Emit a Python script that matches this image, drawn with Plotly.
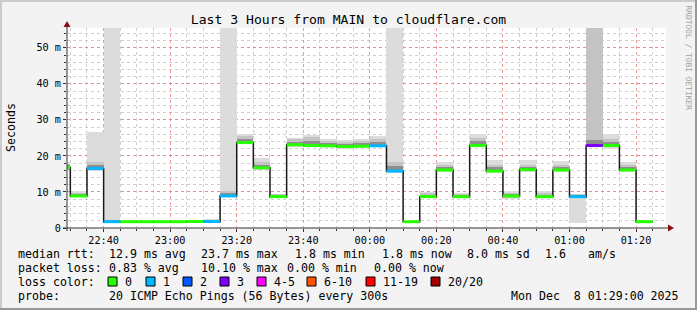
import plotly.graph_objects as go
import pandas as pd

W, H = 697, 310
L, R, T, B = 67, 666, 28, 228   # plot area in pixels

# ---------------- data ----------------
starts = pd.date_range("2025-12-07 22:25:00", periods=36, freq="5min")
median = [16.8, 8.9, 16.5, 1.75, 1.75, 1.75, 1.75, 1.75, 1.8, 1.8,
          8.9, 23.7, 16.7, 8.7, 23.1, 22.9, 22.8, 22.6, 22.7, 22.8,
          15.8, 1.75, 8.7, 16.1, 8.7, 22.9, 15.8, 8.9, 16.2, 8.7,
          16.1, 8.7, 22.9, 22.9, 16.1, 1.75]
loss = [0, 0, 1, 1, 0, 0, 0, 0, 0, 1,
        1, 0, 0, 0, 0, 0, 0, 0, 0, 1,
        1, 0, 0, 0, 0, 0, 0, 0, 0, 0,
        0, 1, 3, 0, 0, 0]
smoke_lo = [15.9, 8.5, 15.9, 1.5, 1.5, 1.5, 1.5, 1.5, 1.5, 1.5,
            8.5, 23.2, 16.1, 8.2, 22.6, 22.5, 22.4, 21.9, 22.2, 22.4,
            15.4, 1.6, 8.3, 15.5, 8.3, 22.4, 15.4, 8.1, 15.6, 8.3,
            15.5, 1.3, 22.4, 22.0, 15.5, 1.6]
smoke_hi = [18.4, 10.3, 26.7, 60, 2.3, 2.0, 2.0, 2.0, 2.3, 2.6,
            60, 26.2, 19.4, 9.5, 25.0, 25.7, 24.8, 24.3, 24.8, 25.5,
            60, 1.9, 10.1, 18.4, 9.8, 26.0, 19.0, 10.3, 18.9, 10.3,
            18.6, 9.5, 60, 26.0, 18.3, 1.9]
mid_lo = [16.2, 8.6, 16.2, 1.6, 1.6, 1.6, 1.6, 1.6, 1.6, 1.6,
          8.7, 23.5, 16.4, 8.5, 22.9, 22.7, 22.6, 22.2, 22.4, 22.6,
          15.6, 1.65, 8.5, 15.8, 8.5, 22.7, 15.6, 8.4, 15.9, 8.5,
          15.8, 8.3, 22.6, 22.5, 15.8, 1.65]
mid_hi = [17.8, 9.8, 18.3, 2.2, 2.0, 1.9, 1.9, 1.9, 2.0, 2.3,
          10.3, 25.5, 18.3, 9.3, 24.6, 25.2, 24.2, 23.8, 24.2, 24.8,
          18.2, 1.85, 9.6, 17.4, 9.4, 25.1, 17.6, 9.8, 17.6, 9.7,
          17.6, 9.3, 60, 24.8, 17.5, 1.85]
core_lo = [16.5, 8.8, 16.4, 1.7, 1.7, 1.7, 1.7, 1.7, 1.7, 1.7,
           8.8, 23.6, 16.6, 8.6, 23.0, 22.8, 22.7, 22.4, 22.6, 22.7,
           15.7, 1.7, 8.6, 16.0, 8.6, 22.8, 15.7, 8.6, 16.1, 8.6,
           16.0, 8.5, 22.8, 22.7, 16.0, 1.7]
core_hi = [17.4, 9.4, 17.6, 2.0, 1.9, 1.85, 1.85, 1.85, 1.9, 2.0,
           9.6, 24.6, 17.6, 9.0, 24.0, 24.2, 23.6, 23.2, 23.5, 24.0,
           17.2, 1.8, 9.2, 16.8, 9.1, 24.2, 16.8, 9.4, 16.9, 9.2,
           16.9, 9.1, 24.5, 23.8, 16.9, 1.8]

loss_labels = ["0", "1", "2", "3", "4-5", "6-10", "11-19", "20/20"]
loss_colors = ["#26ff00", "#00b8ff", "#0059ff", "#7e00ff", "#ff00ff",
               "#ff5500", "#ff0000", "#a10000"]

y_tickvals = [0, 10, 20, 30, 40, 50]
y_ticktext = ["0", "10 m", "20 m", "30 m", "40 m", "50 m"]

title = "Last 3 Hours from MAIN to cloudflare.com"
rtt_items = ["median rtt:", "12.9 ms avg", "23.7 ms max", "1.8 ms min",
             "1.8 ms now", "8.0 ms sd", "1.6", "am/s"]
loss_items = ["packet loss:", "0.83 % avg", "10.10 % max", "0.00 % min", "0.00 % now"]
probe_items = ["probe:", "20 ICMP Echo Pings (56 Bytes) every 300s"]
stamp = "Mon Dec  8 01:29:00 2025"

# ---------------- layout positions (pixels) ----------------
rtt_x = [16, 107, 199.5, 293, 380, 465, 543, 586]
loss_x = [16, 107, 199.5, 285, 372.5]
probe_x = [16, 107]
sq_x = [108, 146, 183, 220, 257, 307, 366, 431]

MONO = "DejaVu Sans Mono"
step = pd.Timedelta(minutes=5)
centers = [s + step / 2 for s in starts]
ends = [s + step for s in starts]
bw = 300000


def px(x):
    return (x - L) / (R - L)


def py(y):
    return (B - y) / (B - T)


def nb(s):
    return s.replace(" ", "\u00a0")


fig = go.Figure()

for lo, hi, col in [(smoke_lo, smoke_hi, "#dcdcdc"),
                    (mid_lo, mid_hi, "#c4c4c4"),
                    (core_lo, core_hi, "#8e8e8e")]:
    fig.add_trace(go.Bar(x=centers, base=lo, y=[h - l for l, h in zip(lo, hi)],
                         width=bw, marker=dict(color=col, line=dict(width=0)),
                         hoverinfo="skip", showlegend=False))

# black step line
fig.add_trace(go.Scatter(x=list(starts) + [ends[-1]], y=median + [median[-1]],
                         mode="lines", line=dict(color="#1a1a1a", width=1.5, shape="hv"),
                         hoverinfo="skip", showlegend=False))

# coloured median segments
for k, col in enumerate(loss_colors):
    xs, ys = [], []
    for s, e, m, l in zip(starts, ends, median, loss):
        if l == k:
            xs += [s, e, None]
            ys += [m, m, None]
    if xs:
        fig.add_trace(go.Scatter(x=xs, y=ys, mode="lines",
                                 line=dict(color=col, width=3),
                                 hoverinfo="skip", showlegend=False))

shapes = []
ann = []

# frame (3D border)
shapes += [
    dict(type="rect", xref="paper", yref="paper", x0=px(0), x1=px(W), y0=py(0), y1=py(2),
         fillcolor="#cbcbcb", line=dict(width=0), layer="below"),
    dict(type="rect", xref="paper", yref="paper", x0=px(0), x1=px(2), y0=py(0), y1=py(H),
         fillcolor="#cbcbcb", line=dict(width=0), layer="below"),
    dict(type="rect", xref="paper", yref="paper", x0=px(0), x1=px(W), y0=py(H - 2), y1=py(H),
         fillcolor="#999999", line=dict(width=0), layer="below"),
    dict(type="rect", xref="paper", yref="paper", x0=px(W - 2), x1=px(W), y0=py(0), y1=py(H),
         fillcolor="#999999", line=dict(width=0), layer="below"),
]

# axes lines + arrows
shapes += [
    dict(type="line", xref="paper", yref="paper", x0=px(63), x1=px(669), y0=py(228), y1=py(228),
         line=dict(color="#333333", width=1)),
    dict(type="line", xref="paper", yref="paper", x0=px(67), x1=px(67), y0=py(231), y1=py(25),
         line=dict(color="#333333", width=1)),
    dict(type="path", xref="paper", yref="paper",
         path=f"M {px(668)} {py(224.5)} L {px(674)} {py(228)} L {px(668)} {py(231.5)} Z",
         fillcolor="#8b1010", line=dict(width=0)),
    dict(type="path", xref="paper", yref="paper",
         path=f"M {px(63.5)} {py(27)} L {px(67)} {py(21)} L {px(70.5)} {py(27)} Z",
         fillcolor="#8b1010", line=dict(width=0)),
]

fs = 11.6


def text(t, x, y, anchor="left", **kw):
    d = dict(text=nb(t), x=px(x), y=py(y), xref="paper", yref="paper",
             xanchor=anchor, yanchor="middle", showarrow=False,
             font=dict(family=MONO, size=fs, color="#000000"))
    d.update(kw)
    ann.append(d)


for t, x in zip(rtt_items, rtt_x):
    text(t, x - 0.5, 254)
for t, x in zip(loss_items, loss_x):
    text(t, x - 0.5, 268)
text("loss color:", 15.5, 282)
for t, x in zip(probe_items, probe_x):
    text(t, x - 0.5, 296)
text(stamp, 681, 296, anchor="right")

for x0, lab, col in zip(sq_x, loss_labels, loss_colors):
    shapes.append(dict(type="rect", xref="paper", yref="paper",
                       x0=px(x0), x1=px(x0 + 9), y0=py(277), y1=py(286),
                       fillcolor=col, line=dict(color="#000000", width=1)))
    text(lab, x0 + 14.5, 282)

# y axis title
text("Seconds", 11, 128, anchor="center", textangle=-90)
# watermark
text("RRDTOOL / TOBI OETIKER", 688, 57.5, anchor="center", textangle=90,
     font=dict(family=MONO, size=7.9, color="#a0a0a0"))

fig.update_layout(
    width=W, height=H,
    margin=dict(l=L, r=W - R, t=T, b=H - B, pad=0),
    paper_bgcolor="#f3f3f3", plot_bgcolor="#ffffff",
    barmode="overlay", bargap=0,
    showlegend=False,
    title=dict(text=title, x=0.5, xref="container", xanchor="center",
               y=1 - 19 / H, yref="container", yanchor="middle",
               font=dict(family=MONO, size=13.1, color="#000000")),
    shapes=shapes, annotations=ann,
)

fig.update_xaxes(
    type="date",
    range=["2025-12-07 22:29:00", "2025-12-08 01:29:00"],
    tick0="2025-12-07 22:40:00", dtick=20 * 60 * 1000, tickformat="%H:%M",
    showgrid=True, gridcolor="rgba(235,120,120,0.75)", griddash="dot", gridwidth=1,
    minor=dict(dtick=5 * 60 * 1000, tick0="2025-12-07 22:40:00", showgrid=True,
               gridcolor="#cfcfcf", griddash="dot", gridwidth=1,
               ticks="outside", ticklen=2, tickcolor="#333333"),
    ticks="outside", ticklen=3, tickcolor="#333333",
    showline=False, zeroline=False,
    tickfont=dict(family=MONO, size=10.2, color="#000000"),
    fixedrange=True,
)
fig.update_yaxes(
    range=[0, 55.5],
    tickmode="array", tickvals=y_tickvals, ticktext=y_ticktext,
    showgrid=True, gridcolor="rgba(235,120,120,0.75)", griddash="dot", gridwidth=1,
    minor=dict(dtick=2, tick0=0, showgrid=True, gridcolor="#cfcfcf", griddash="dot",
               gridwidth=1, ticks="outside", ticklen=2, tickcolor="#333333"),
    ticks="outside", ticklen=3, tickcolor="#333333",
    showline=False, zeroline=False,
    tickfont=dict(family=MONO, size=10.2, color="#000000"),
    fixedrange=True,
)

fig.write_html("out.html")
